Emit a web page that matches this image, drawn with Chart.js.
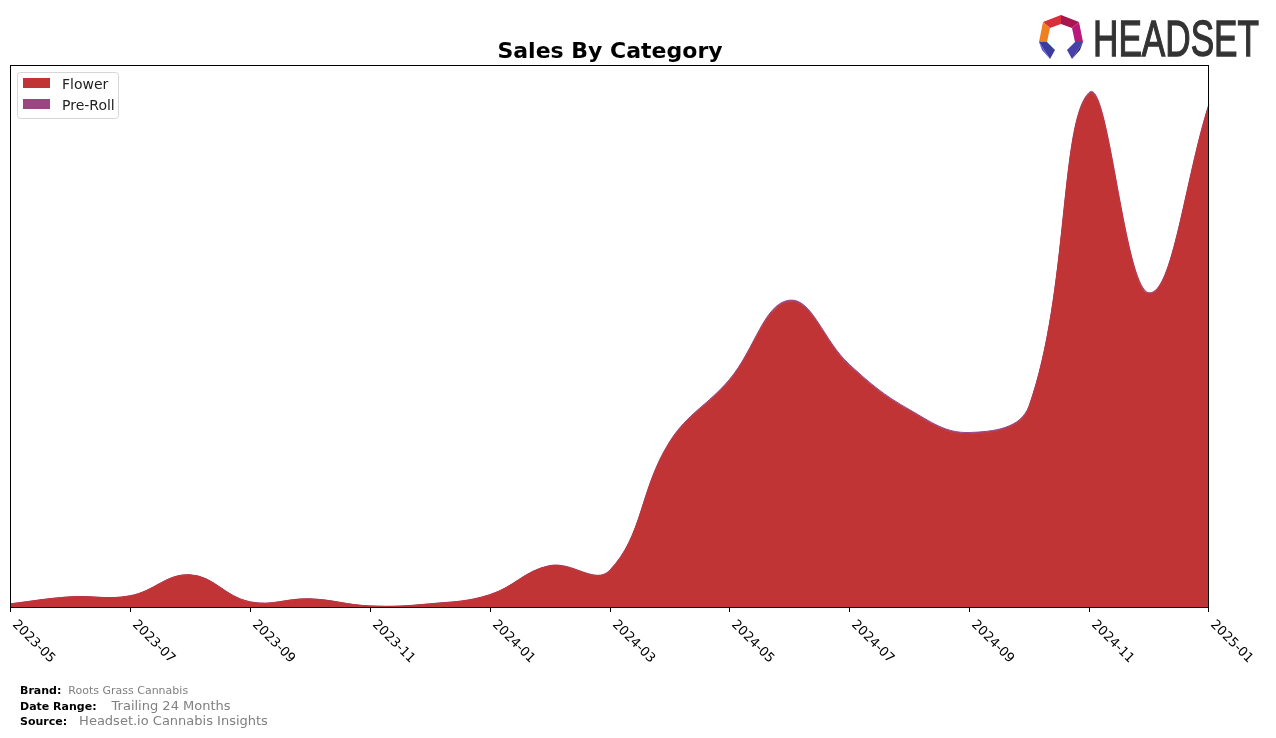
<!DOCTYPE html>
<html>
<head>
<meta charset="utf-8">
<script src="https://cdn.jsdelivr.net/npm/chart.js@4.4.1/dist/chart.umd.min.js"></script>
<style>
  html, body { margin: 0; padding: 0; background: #ffffff; }
  canvas { display: block; }
</style>
</head>
<body>
<canvas id="c" width="1276" height="738"></canvas>
<script>
// ---- data ----
const months = ["2023-05","2023-06","2023-07","2023-08","2023-09","2023-10","2023-11","2023-12",
  "2024-01","2024-02","2024-03","2024-04","2024-05","2024-06","2024-07","2024-08","2024-09",
  "2024-10","2024-11","2024-12","2025-01"];
const flowerSales = [3, 10, 11, 32, 5, 8, 1, 3, 12, 41, 36, 164, 226, 305, 241, 196, 173, 200, 513, 313, 502];
const preRollSales = [0.2, 0.2, 0.2, 0.3, 0.2, 0.2, 0.1, 0.2, 0.3, 0.4, 0.5, 1.0, 1.5, 1.8, 1.6, 1.5, 1.5, 1.4, 1.5, 1.2, 1.2];
const tickLabels = ["2023-05","2023-07","2023-09","2023-11","2024-01","2024-03","2024-05","2024-07","2024-09","2024-11","2025-01"];
const seriesNames = ["Flower", "Pre-Roll"];
const seriesColors = ["#c13435", "#9b4682"];
const titleText = "Sales By Category";
const footer = [
  ["Brand:", "Roots Grass Cannabis", 11, 7],
  ["Date Range:", "Trailing 24 Months", 13, 15],
  ["Source:", "Headset.io Cannabis Insights", 13, 12]
];

const decor = {
  id: "decor",
  afterDraw(chart) {
    const ctx = chart.ctx;
    const a = chart.chartArea;
    const xs = chart.scales.x;
    ctx.save();
    // frame
    ctx.strokeStyle = "#000";
    ctx.lineWidth = 1;
    ctx.strokeRect(a.left + 0.5, a.top + 0.5, a.right - a.left - 1, a.bottom - a.top);
    // ticks + labels
    ctx.font = "13px 'DejaVu Sans'";
    ctx.fillStyle = "#000";
    ctx.textBaseline = "top";
    ctx.textAlign = "left";
    tickLabels.forEach(lbl => {
      const i = months.indexOf(lbl);
      let x = Math.round(xs.getPixelForValue(i));
      if (x >= a.right) x = a.right - 1;
      ctx.beginPath();
      ctx.moveTo(x + 0.5, a.bottom);
      ctx.lineTo(x + 0.5, a.bottom + 5);
      ctx.stroke();
      ctx.save();
      ctx.translate(x + 9, a.bottom + 11);
      ctx.rotate(Math.PI / 4);
      ctx.fillText(lbl, 0, 0);
      ctx.restore();
    });
    // title
    ctx.font = "bold 22px 'DejaVu Sans'";
    ctx.textAlign = "center";
    ctx.textBaseline = "alphabetic";
    ctx.fillText(titleText, 610, 58);
    // legend
    ctx.beginPath();
    const lx = 17.5, ly = 72.5, lw = 101, lh = 46, r = 3;
    ctx.moveTo(lx + r, ly);
    ctx.arcTo(lx + lw, ly, lx + lw, ly + lh, r);
    ctx.arcTo(lx + lw, ly + lh, lx, ly + lh, r);
    ctx.arcTo(lx, ly + lh, lx, ly, r);
    ctx.arcTo(lx, ly, lx + lw, ly, r);
    ctx.closePath();
    ctx.fillStyle = "rgba(255,255,255,0.8)";
    ctx.fill();
    ctx.strokeStyle = "#d6d6d6";
    ctx.stroke();
    ctx.font = "14px 'DejaVu Sans'";
    ctx.textAlign = "left";
    ctx.textBaseline = "middle";
    seriesNames.forEach((n, k) => {
      ctx.fillStyle = seriesColors[k];
      ctx.fillRect(23, 78 + k * 21, 27, 10);
      ctx.fillStyle = "#222";
      ctx.fillText(n, 62, 85 + k * 21);
    });
    // footer
    footer.forEach((f, k) => {
      const y = 694 + k * 15.5;
      ctx.font = "bold 11px 'DejaVu Sans'";
      ctx.fillStyle = "#000";
      ctx.textBaseline = "alphabetic";
      ctx.fillText(f[0], 20, y);
      const w = ctx.measureText(f[0]).width;
      ctx.font = f[2] + "px 'DejaVu Sans'";
      ctx.fillStyle = "#808080";
      ctx.fillText(f[1], 20 + w + f[3], y);
    });
    // logo
    const poly = (pts, col) => {
      ctx.beginPath();
      ctx.moveTo(pts[0][0], pts[0][1]);
      for (let p = 1; p < pts.length; p++) ctx.lineTo(pts[p][0], pts[p][1]);
      ctx.closePath();
      ctx.fillStyle = col;
      ctx.fill();
    };
    poly([[1043,22],[1061,15],[1061,24],[1050,28]], "#d8303a");
    poly([[1061,15],[1079,22],[1072,28],[1061,24]], "#a8154f");
    poly([[1079,22],[1083,42],[1075,42],[1072,28]], "#b81a7c");
    poly([[1043,22],[1050,28],[1047,42],[1039,42]], "#f07f22");
    poly([[1039,42],[1047,42],[1055,50],[1050,59]], "#3a3d9e");
    poly([[1039,42],[1050,59],[1042,50]], "#5656c8");
    poly([[1075,42],[1083,42],[1072,59],[1067,50]], "#4a3fa8");
    poly([[1083,42],[1072,59],[1080,50]], "#2c2a80");
    ctx.save();
    ctx.fillStyle = "#333333";
    ctx.strokeStyle = "#333333";
    ctx.lineWidth = 1.3;
    ctx.font = "50px 'Liberation Sans'";
    ctx.textBaseline = "alphabetic";
    ctx.textAlign = "left";
    const tw = ctx.measureText("HEADSET").width;
    ctx.translate(1093, 56);
    ctx.scale(166 / tw, 1);
    ctx.fillText("HEADSET", 0, 0);
    ctx.strokeText("HEADSET", 0, 0);
    ctx.restore();
    ctx.restore();
  }
};

new Chart(document.getElementById("c"), {
  type: "line",
  data: {
    labels: months,
    datasets: [
      { label: seriesNames[0], data: flowerSales, backgroundColor: seriesColors[0], borderColor: seriesColors[0],
        borderWidth: 1, fill: "origin", pointRadius: 0, tension: 0.4 },
      { label: seriesNames[1], data: preRollSales, backgroundColor: seriesColors[1], borderColor: seriesColors[1],
        borderWidth: 1, fill: "-1", pointRadius: 0, tension: 0.4 }
    ]
  },
  options: {
    responsive: false,
    animation: false,
    layout: { padding: { left: 10, right: 67, top: 65, bottom: 131 } },
    plugins: { legend: { display: false }, title: { display: false }, tooltip: { enabled: false } },
    scales: {
      x: { display: false },
      y: { display: false, stacked: true, min: 0, max: 542 }
    }
  },
  plugins: [decor]
});
</script>
</body>
</html>
